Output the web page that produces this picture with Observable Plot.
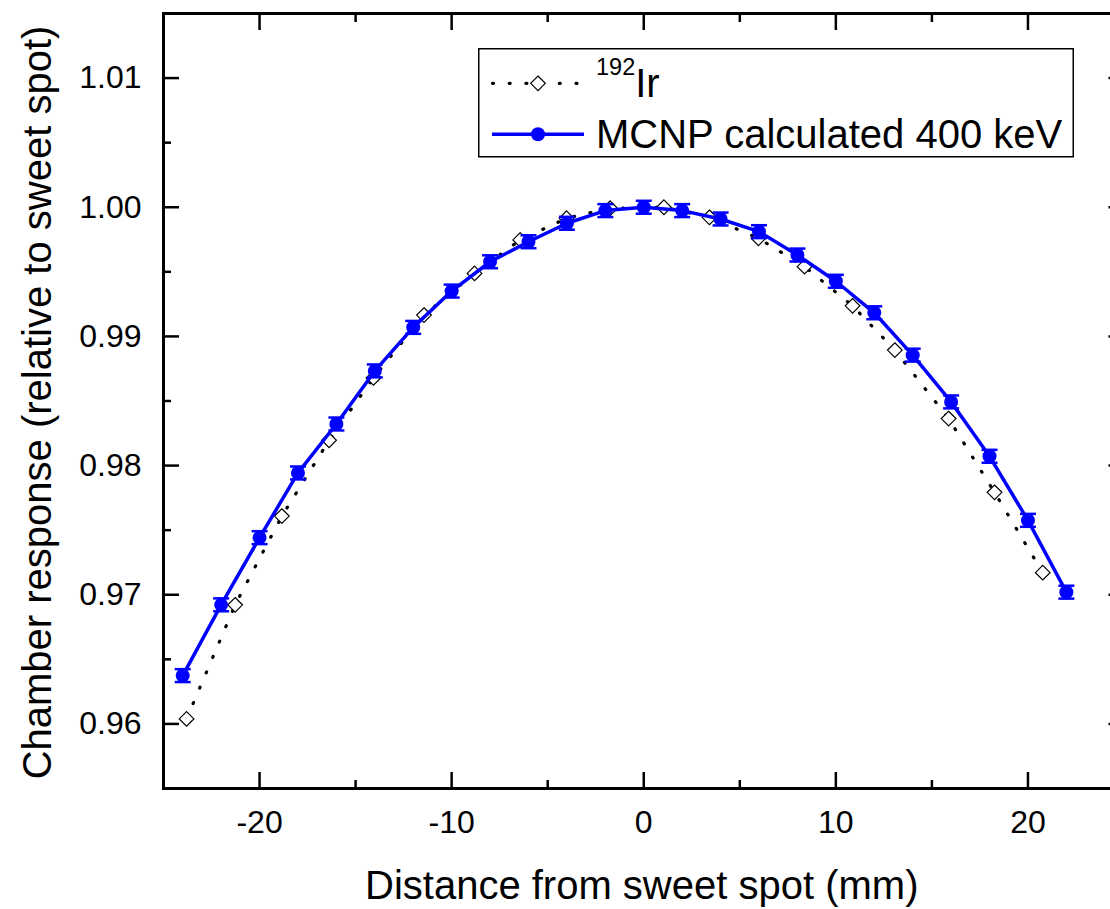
<!DOCTYPE html>
<html>
<head>
<meta charset="utf-8">
<script src="https://cdn.jsdelivr.net/npm/d3@7"></script>
<script src="https://cdn.jsdelivr.net/npm/@observablehq/plot@0.6"></script>
<style>
  html, body { margin: 0; padding: 0; overflow: hidden; background: white; }
  #wrap { position: relative; width: 1110px; height: 909px; overflow: hidden; }
  #wrap svg { display: block; max-width: none !important; }
  #legend { position: absolute; left: 0; top: 0; pointer-events: none; }
</style>
</head>
<body>
<div id="wrap"></div>
<script>
// ---- Data ----
const mcnpX = [-24, -22, -20, -18, -16, -14, -12, -10, -8, -6, -4, -2, 0, 2, 4, 6, 8, 10, 12, 14, 16, 18, 20, 22];
const mcnpY = [0.96374, 0.96922, 0.97442, 0.97943, 0.98322, 0.98733, 0.99070, 0.99351, 0.99578, 0.99733, 0.99876, 0.99974,
               1.00000, 0.99974, 0.99909, 0.99811, 0.99630, 0.99427, 0.99183, 0.98855, 0.98493, 0.98072, 0.97576, 0.97020];
const mcnpErr = [0.0005, 0.0005, 0.0005, 0.0005, 0.0005, 0.0005, 0.0005, 0.0005, 0.0005, 0.0005, 0.0005, 0.0005,
                 0.0005, 0.0005, 0.0005, 0.0005, 0.0005, 0.0005, 0.0005, 0.0005, 0.0005, 0.0005, 0.0005, 0.0005];

const irX = [-23.8, -21.27, -18.84, -16.38, -14.07, -11.44, -8.81, -6.43, -4.02, -1.75, 1.05, 3.42, 5.97, 8.37, 10.87, 13.07, 15.87, 18.26, 20.77];
const irY = [0.96039, 0.96922, 0.97609, 0.98196, 0.98679, 0.99165, 0.99488, 0.99747, 0.99915, 0.99992, 1.00000, 0.99922,
             0.99760, 0.99540, 0.99237, 0.98894, 0.98364, 0.97793, 0.97171];

const xMajor = [-20, -10, 0, 10, 20];
const xMinor = [-15, -5, 5, 15];
const yMajor = [0.96, 0.97, 0.98, 0.99, 1.00, 1.01];
const yMinor = [0.965, 0.975, 0.985, 0.995, 1.005];

const xTitle = "Distance from sweet spot (mm)";
const yTitle = "Chamber response (relative to sweet spot)";
const seriesNames = ["Ir", "MCNP calculated 400 keV"];

const mcnp = mcnpX.map((x, i) => ({x, y: mcnpY[i], e: mcnpErr[i]}));
const ir = irX.map((x, i) => ({x, y: irY[i]}));

const capSymbol = {
  draw(context, size) {
    const w = Math.sqrt(size / Math.PI);
    context.moveTo(-w, 0);
    context.lineTo(w, 0);
  }
};

const BLUE = "#0000ff";
const noText = () => "";
const MAJ = 16, MIN = 8, TW = 2.5;

const chart = Plot.plot({
  width: 1126,
  height: 909,
  marginLeft: 163,
  marginRight: 2.5,
  marginTop: 13,
  marginBottom: 121,
  x: {domain: [-25, 25]},
  y: {domain: [0.955, 1.015]},
  style: {fontFamily: "'Liberation Sans', Arial, Helvetica, sans-serif", fontSize: "32px", color: "black", background: "white", maxWidth: "none"},
  marks: [
    // Ir dotted line + diamonds
    Plot.line(ir, {x: "x", y: "y", stroke: "black", strokeWidth: 3.2, strokeDasharray: "1,15.7", strokeLinecap: "round"}),
    Plot.dot(ir, {x: "x", y: "y", symbol: "diamond2", r: 6.6, fill: "white", stroke: "black", strokeWidth: 1.2}),
    // MCNP line, error bars, dots
    Plot.line(mcnp, {x: "x", y: "y", stroke: BLUE, strokeWidth: 3.5}),
    Plot.ruleX(mcnp, {x: "x", y1: d => d.y - d.e, y2: d => d.y + d.e, stroke: BLUE, strokeWidth: 2.5}),
    Plot.dot(mcnp, {x: "x", y: d => d.y - d.e, symbol: capSymbol, r: 8, stroke: BLUE, strokeWidth: 2.5}),
    Plot.dot(mcnp, {x: "x", y: d => d.y + d.e, symbol: capSymbol, r: 8, stroke: BLUE, strokeWidth: 2.5}),
    Plot.dot(mcnp, {x: "x", y: "y", r: 7, fill: BLUE}),
    // Frame
    Plot.frame({stroke: "black", strokeWidth: 3}),
    // Inward ticks (shifted inward by their own length)
    Plot.axisX(xMajor, {anchor: "bottom", tickSize: MAJ, dy: -MAJ, strokeWidth: TW, tickFormat: noText, label: null}),
    Plot.axisX(xMinor, {anchor: "bottom", tickSize: MIN, dy: -MIN, strokeWidth: TW, tickFormat: noText, label: null}),
    Plot.axisX(xMajor, {anchor: "top", tickSize: MAJ, dy: MAJ, strokeWidth: TW, tickFormat: noText, label: null}),
    Plot.axisX(xMinor, {anchor: "top", tickSize: MIN, dy: MIN, strokeWidth: TW, tickFormat: noText, label: null}),
    Plot.axisY(yMajor, {anchor: "left", tickSize: MAJ, dx: MAJ, strokeWidth: TW, tickFormat: noText, label: null}),
    Plot.axisY(yMinor, {anchor: "left", tickSize: MIN, dx: MIN, strokeWidth: TW, tickFormat: noText, label: null}),
    Plot.axisY(yMajor, {anchor: "right", tickSize: MAJ, dx: -MAJ, strokeWidth: TW, tickFormat: noText, label: null}),
    Plot.axisY(yMinor, {anchor: "right", tickSize: MIN, dx: -MIN, strokeWidth: TW, tickFormat: noText, label: null}),
    // Tick labels
    Plot.axisX(xMajor, {anchor: "bottom", tickSize: 0, tickPadding: 22, fontSize: 32, tickFormat: d => String(d), label: null}),
    Plot.axisY(yMajor, {anchor: "left", tickSize: 0, tickPadding: 22, fontSize: 32, tickFormat: d3.format(".2f"), label: null}),
    // Axis titles
    Plot.text([xTitle], {text: d => d, frameAnchor: "bottom", textAnchor: "middle", dx: -2, dy: 97.5, lineAnchor: "middle", fontSize: 40}),
    Plot.text([yTitle], {text: d => d, frameAnchor: "left", textAnchor: "middle", rotate: -90, dx: -125, dy: 1.5, lineAnchor: "middle", fontSize: 40})
  ]
});

const wrap = document.getElementById("wrap");
wrap.appendChild(chart);

// Legend overlay
const ns = "http://www.w3.org/2000/svg";
const lg = document.createElementNS(ns, "svg");
lg.setAttribute("id", "legend");
lg.setAttribute("width", 1110);
lg.setAttribute("height", 909);
lg.setAttribute("font-family", "'Liberation Sans', Arial, Helvetica, sans-serif");
function el(tag, attrs, parent) {
  const e = document.createElementNS(ns, tag);
  for (const k in attrs) e.setAttribute(k, attrs[k]);
  (parent || lg).appendChild(e);
  return e;
}
el("rect", {x: 478.75, y: 48.75, width: 594.5, height: 108, fill: "white", stroke: "black", "stroke-width": 1.5});
// Row 1: Ir
el("line", {x1: 492.5, x2: 584, y1: 83.3, y2: 83.3, stroke: "black", "stroke-width": 3.2, "stroke-dasharray": "1,15.7", "stroke-linecap": "round"});
el("path", {d: "M538,76 L545.3,83.3 L538,90.6 L530.7,83.3 Z", fill: "white", stroke: "black", "stroke-width": 1.2});
const t1 = el("text", {x: 596, y: 96.7, "font-size": 40, fill: "black"});
const sup = el("tspan", {"font-size": 23.5, dy: -21.7}, t1);
sup.textContent = "192";
const irT = el("tspan", {dy: 21.7}, t1);
irT.textContent = seriesNames[0];
// Row 2: MCNP
el("line", {x1: 492, x2: 584, y1: 134.3, y2: 134.3, stroke: BLUE, "stroke-width": 3.5});
el("circle", {cx: 538, cy: 134.3, r: 7, fill: BLUE});
const t2 = el("text", {x: 596, y: 147.7, "font-size": 40, fill: "black"});
t2.textContent = seriesNames[1];
wrap.appendChild(lg);
</script>
</body>
</html>
